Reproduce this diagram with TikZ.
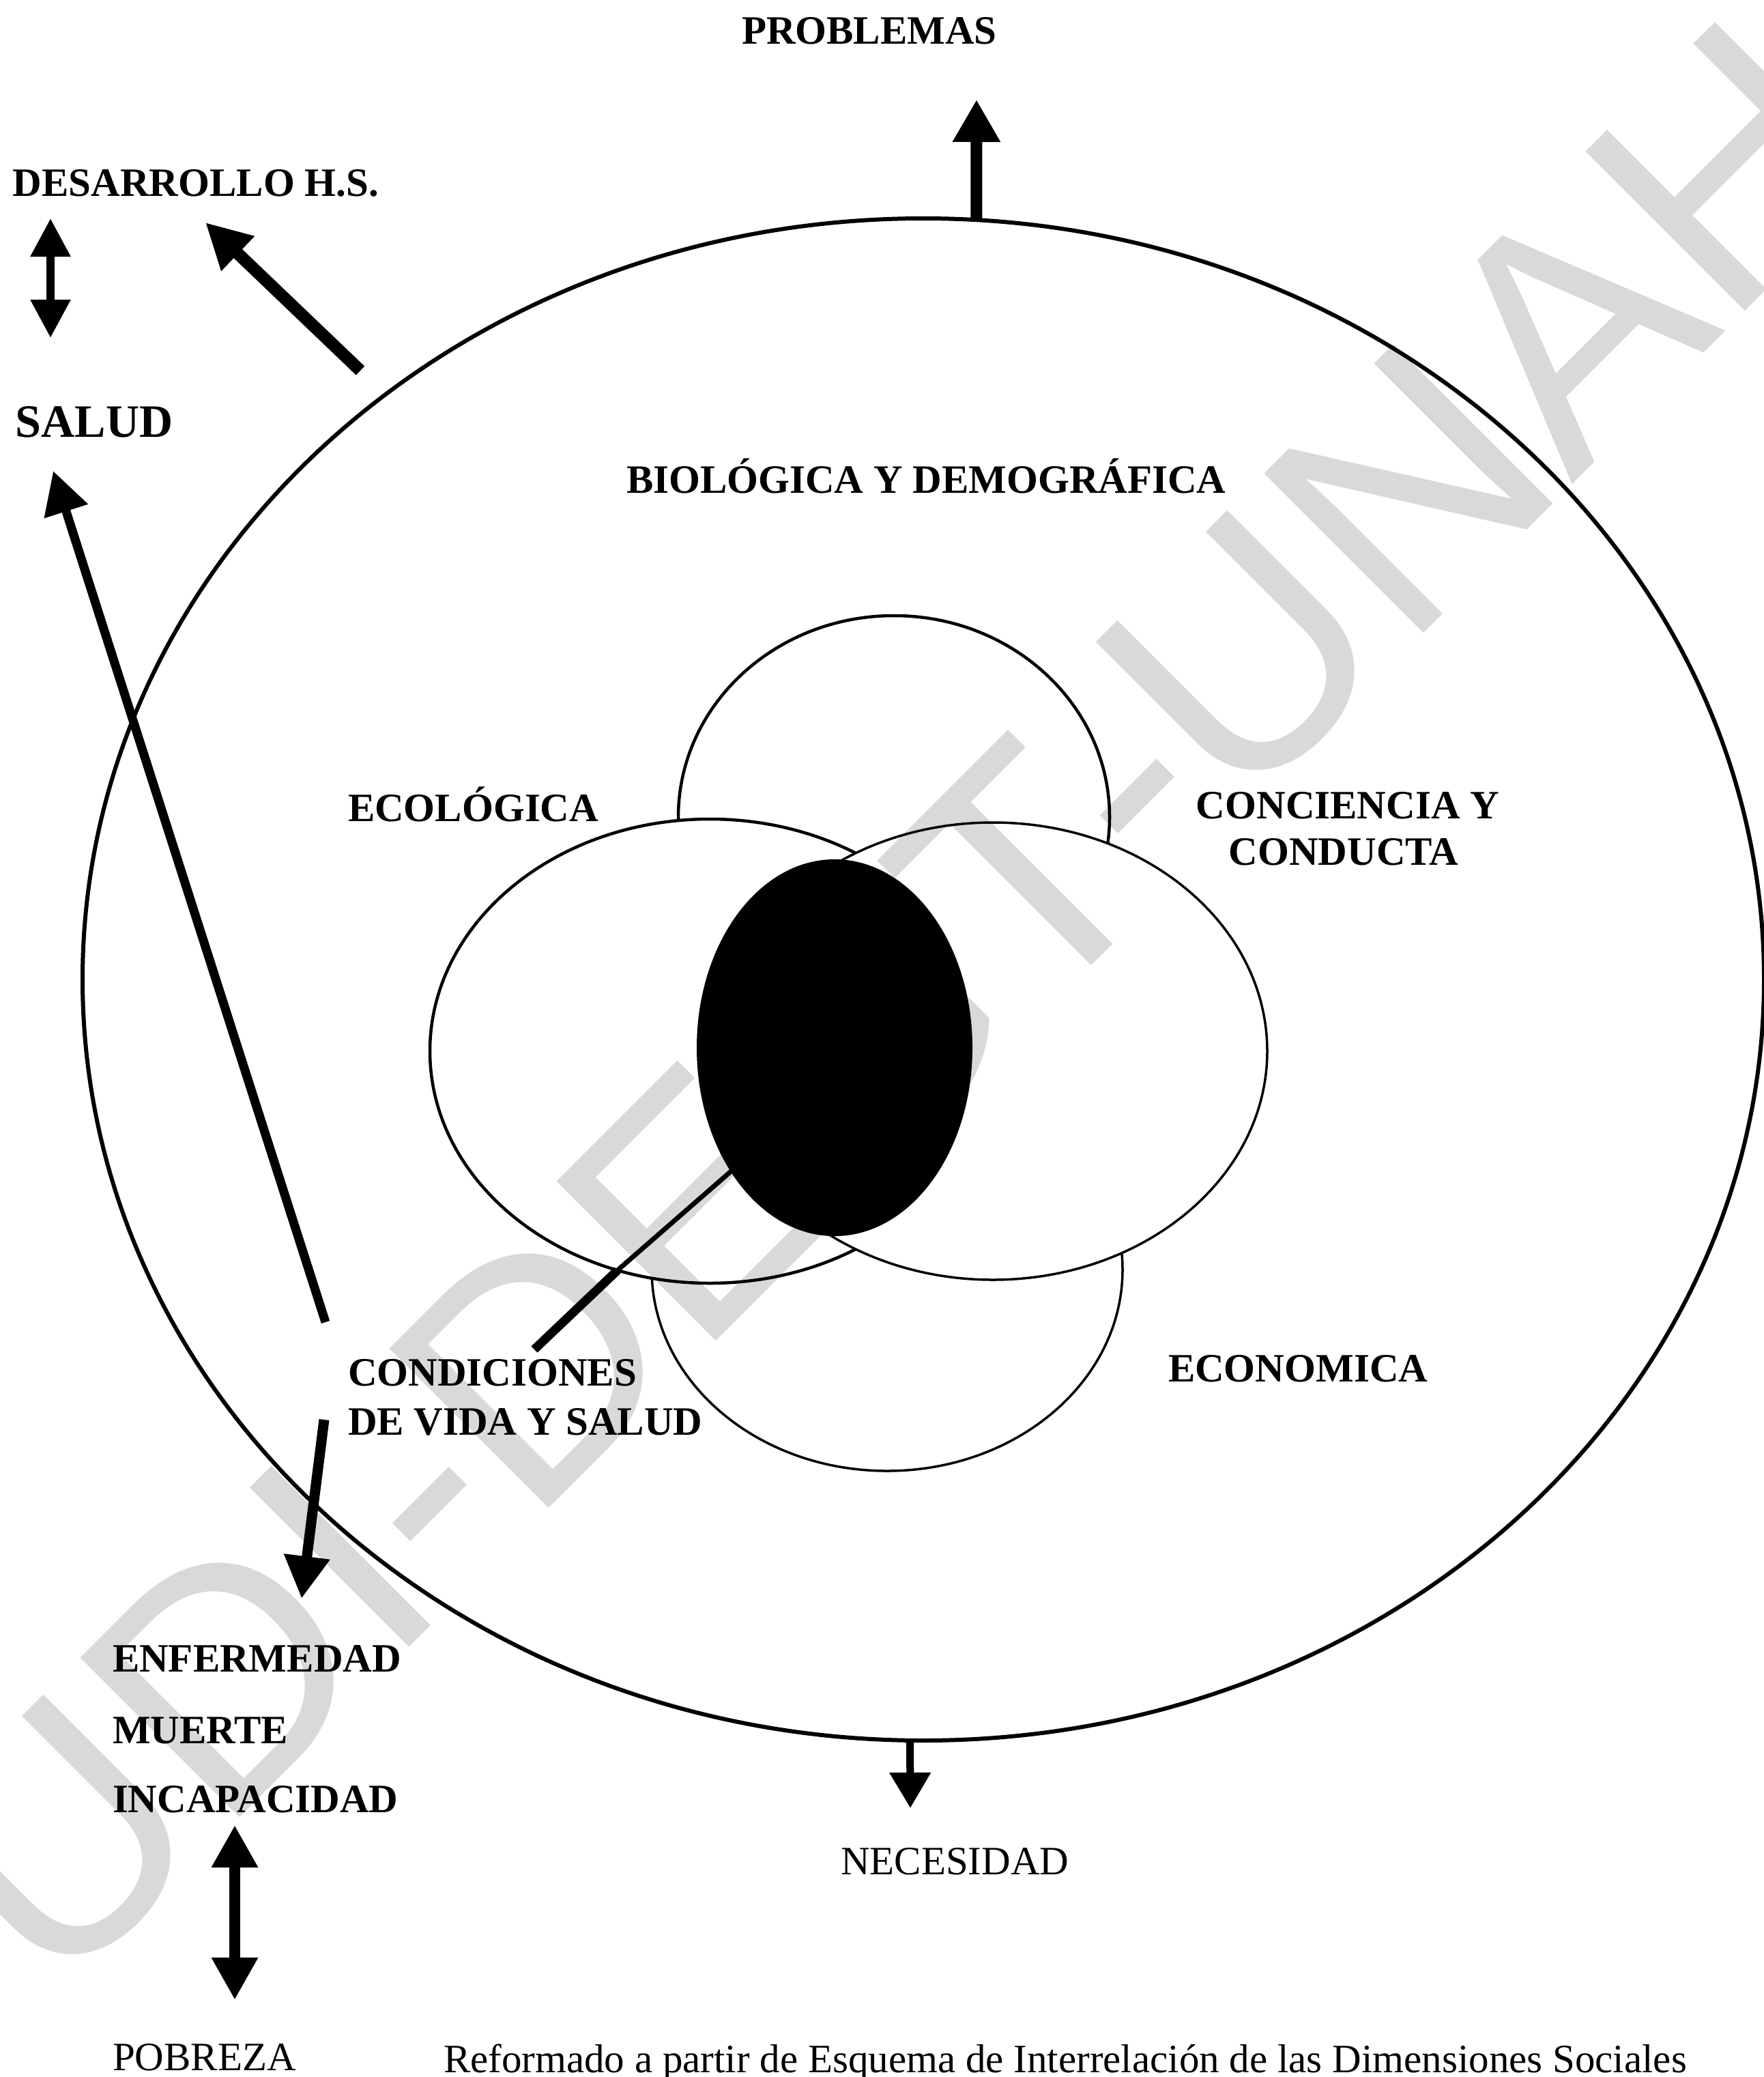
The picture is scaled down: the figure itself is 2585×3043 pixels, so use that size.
\documentclass[tikz,border=0pt]{standalone}
\usepackage{fontspec}
\setmainfont{Liberation Serif}
\newfontfamily\markfont{Liberation Sans}
\usetikzlibrary{arrows.meta,shapes.geometric}
\definecolor{markgray}{RGB}{217,217,217}
\begin{document}
\begin{tikzpicture}[x=1pt,y=-1pt,
  every node/.style={inner sep=0pt, outer sep=0pt},
  caps/.style={font=\fontsize{59}{70}\selectfont\bfseries},
  plain/.style={font=\fontsize{59}{70}\selectfont},
  zone/.style={ellipse, draw, fill=white, line width=4.5pt},
  thinzone/.style={zone, line width=3.5pt},
  bigarrow/.style={line width=17pt, -{Triangle[length=62pt,width=66pt]}},
  midarrow/.style={line width=15pt, -{Triangle[length=62pt,width=64pt]}},
  smallarrow/.style={line width=11pt, -{Triangle[length=52pt,width=58pt]}},
  twoway/.style={line width=12pt, {Triangle[length=56pt,width=56pt]}-{Triangle[length=56pt,width=56pt]}},
  twowaybig/.style={line width=16pt, {Triangle[length=62pt,width=64pt]}-{Triangle[length=62pt,width=64pt]}},
]
\useasboundingbox (0,0) rectangle (2585,3043);

% outer ring of social dimensions
\node[ellipse, draw, line width=6pt, minimum width=2464pt, minimum height=2230pt] (outer) at (1353,1435) {};

% the four overlapping dimensions and their common core
\node[zone, minimum width=632pt, minimum height=590pt] (topE) at (1310,1197) {};
\node[thinzone, minimum width=690pt, minimum height=590pt] (botE) at (1300,1860) {};
\node[zone, minimum width=820pt, minimum height=680pt] (leftE) at (1040,1540) {};
\node[thinzone, minimum width=804pt, minimum height=670pt] (rightE) at (1455,1540) {};
\node[ellipse, fill=black, minimum width=404pt, minimum height=552pt] (core) at (1223,1535) {};

% pointer from the core to its label
\coordinate (ptrMid) at (905,1861);
\coordinate (ptrEnd) at (783,1977);
\draw[line width=7pt, line cap=round] (core.230) -- (ptrMid);
\draw[line width=13pt] (ptrMid) -- (ptrEnd);

% labels
\node[caps, anchor=base west] (prob) at (1087,64) {PROBLEMAS};
\node[caps, anchor=base west] (desa) at (19,287) {DESARROLLO H.S.};
\node[caps, anchor=base west, font=\fontsize{68}{70}\selectfont\bfseries] (salud) at (23,640) {SALUD};
\node[caps, anchor=base west] (bio) at (918,722) {BIOLÓGICA Y DEMOGRÁFICA};
\node[caps, anchor=base west] (eco) at (510,1203) {ECOLÓGICA};
\node[caps, anchor=base] (conc) at (1975,1199) {CONCIENCIA Y};
\node[caps, anchor=base] (cond) at (1969,1267) {CONDUCTA};
\node[caps, anchor=base west] (econ) at (1712,2024) {ECONOMICA};
\node[caps, anchor=base west] (condi) at (510,2030) {CONDICIONES};
\node[caps, anchor=base west] (vida) at (510,2102) {DE VIDA Y SALUD};
\node[caps, anchor=base west] (enf) at (165,2449) {ENFERMEDAD};
\node[caps, anchor=base west] (mue) at (165,2554) {MUERTE};
\node[caps, anchor=base west] (inc) at (165,2655) {INCAPACIDAD};
\node[plain, anchor=base west] (nec) at (1232,2746) {NECESIDAD};
\node[plain, anchor=base west] (pob) at (165,3033) {POBREZA};
\node[plain, anchor=base west] (src) at (650,3036) {Reformado a partir de Esquema de Interrelación de las Dimensiones Sociales};

% arrows
\coordinate (probTip) at (1431,146);
\draw[bigarrow] (outer.86) -- (probTip);

\coordinate (desTail) at (528,543);
\coordinate (desTip) at (301,326);
\draw[line width=18pt, -{Triangle[length=66pt,width=66pt]}] (desTail) -- (desTip);

\coordinate (hsTop) at (74,320);
\coordinate (hsBot) at (74,495);
\draw[twoway] (hsTop) -- (hsBot);

\coordinate (salTail) at (477,1937);
\coordinate (salTip) at (78,690);
\draw[line width=13pt, -{Triangle[length=62pt,width=64pt]}] (salTail) -- (salTip);

\coordinate (enfTail) at (475,2080);
\coordinate (enfTip) at (442,2342);
\draw[midarrow] (enfTail) -- (enfTip);

\coordinate (pobTop) at (344,2674);
\coordinate (pobBot) at (344,2930);
\draw[twowaybig] (pobTop) -- (pobBot);

\coordinate (necTip) at (1334,2649);
\draw[smallarrow] (outer.269) -- (necTip);

% watermark
\begin{scope}[blend mode=multiply]
\node[font=\markfont\fontsize{480}{480}\selectfont, text=markgray, rotate=45] (mark) at (1310,1470) {UDI-DEGT-UNAH};
\end{scope}
\end{tikzpicture}
\end{document}
